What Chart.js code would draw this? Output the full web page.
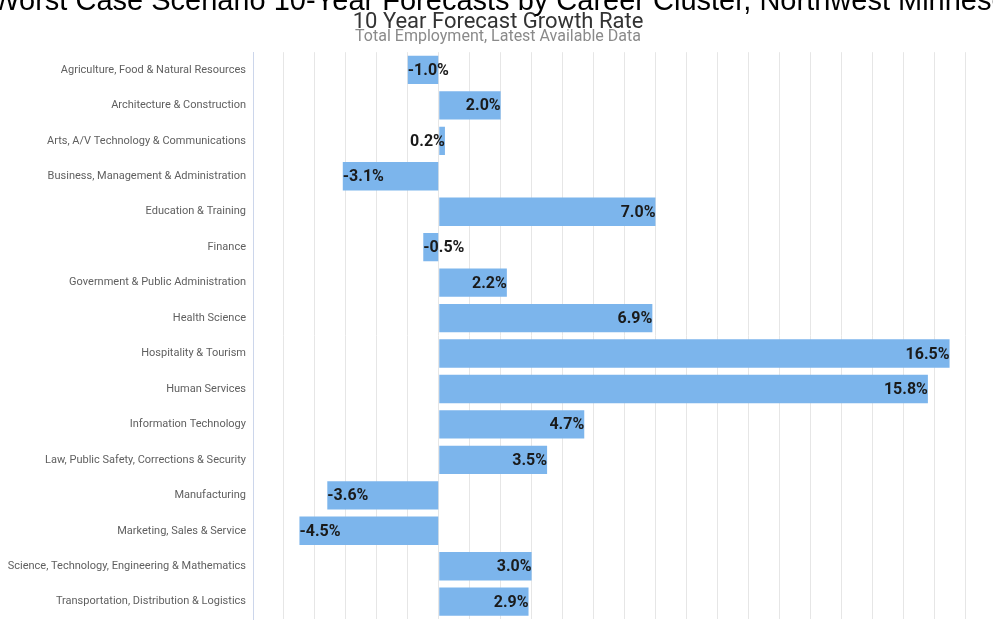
<!DOCTYPE html>
<html>
<head>
<meta charset="utf-8">
<script src="https://cdn.jsdelivr.net/npm/chart.js@4.4.1/dist/chart.umd.min.js"></script>
<style>
  html, body { margin: 0; padding: 0; background: #fff; overflow: hidden; width: 993px; height: 620px; }
  #wrap { position: relative; width: 993px; height: 620px; overflow: hidden; }
  #headline {
    position: absolute; left: -200px; width: 1424px; top: -17px;
    text-align: center; white-space: nowrap;
    font: 29px "Liberation Sans", Arial, sans-serif; color: #000; line-height: 34px;
  }
  #chart { position: absolute; left: 0; top: 0; filter: blur(0.45px); }
</style>
</head>
<body>
<div id="wrap">
  <canvas id="chart" width="996" height="633"></canvas>
  <div id="headline">Worst Case Scenario 10-Year Forecasts by Career Cluster, Northwest Minnesota</div>
</div>
<script>
// Career clusters and their 10-year forecast growth (%)
const clusters = [
  "Agriculture, Food & Natural Resources",
  "Architecture & Construction",
  "Arts, A/V Technology & Communications",
  "Business, Management & Administration",
  "Education & Training",
  "Finance",
  "Government & Public Administration",
  "Health Science",
  "Hospitality & Tourism",
  "Human Services",
  "Information Technology",
  "Law, Public Safety, Corrections & Security",
  "Manufacturing",
  "Marketing, Sales & Service",
  "Science, Technology, Engineering & Mathematics",
  "Transportation, Distribution & Logistics"
];
const growthRate = [-1.0, 2.0, 0.2, -3.1, 7.0, -0.5, 2.2, 6.9, 16.5, 15.8, 4.7, 3.5, -3.6, -4.5, 3.0, 2.9];

// Value axis range and grid step (%)
const axisMin = -6;
const axisMax = 18;
const axisStep = 1;

const chartTitle = "10 Year Forecast Growth Rate";
const chartSubtitle = "Total Employment, Latest Available Data";

// Writes each bar's value just inside its outer end
const barValueLabels = {
  id: "barValueLabels",
  afterDatasetsDraw(chart) {
    const ctx = chart.ctx;
    const meta = chart.getDatasetMeta(0);
    ctx.save();
    ctx.font = "bold 16px Roboto, sans-serif";
    ctx.fillStyle = "#1a1a1a";
    ctx.textBaseline = "middle";
    meta.data.forEach((bar, i) => {
      const v = chart.data.datasets[0].data[i];
      ctx.textAlign = v >= 0 ? "right" : "left";
      ctx.fillText(v.toFixed(1) + "%", bar.x, bar.y + 1);
    });
    ctx.restore();
  }
};

new Chart(document.getElementById("chart"), {
  type: "bar",
  data: {
    labels: clusters,
    datasets: [{
      data: growthRate,
      backgroundColor: "#7cb5ec",
      borderWidth: 0,
      barPercentage: 1.0,
      categoryPercentage: 0.8
    }]
  },
  options: {
    indexAxis: "y",
    responsive: false,
    animation: false,
    devicePixelRatio: 1,
    layout: { padding: { top: 0, bottom: 1, left: 0, right: 0 } },
    plugins: {
      legend: { display: false },
      tooltip: { enabled: false },
      title: {
        display: true,
        text: chartTitle,
        color: "#333333",
        font: { family: "Roboto", size: 22, weight: "normal", lineHeight: 0.6 },
        padding: { top: 16, bottom: 0 }
      },
      subtitle: {
        display: true,
        text: chartSubtitle,
        color: "#8a8a8a",
        font: { family: "Roboto", size: 16, weight: "normal", lineHeight: 1.0 },
        padding: { top: 0, bottom: 7 }
      }
    },
    scales: {
      x: {
        min: axisMin,
        max: axisMax,
        ticks: { stepSize: axisStep, display: false },
        grid: { color: "#e6e6e6", drawTicks: false },
        border: { display: false },
        afterFit(scale) { scale.height = 0; }
      },
      y: {
        ticks: {
          color: "#5f5f5f",
          padding: 7,
          font: { family: "Roboto", size: 11 }
        },
        grid: { display: false, drawTicks: false },
        border: { display: true, color: "#ccd6eb", width: 1 },
        afterFit(scale) { scale.width = 253; }
      }
    }
  },
  plugins: [barValueLabels]
});
</script>
</body>
</html>
